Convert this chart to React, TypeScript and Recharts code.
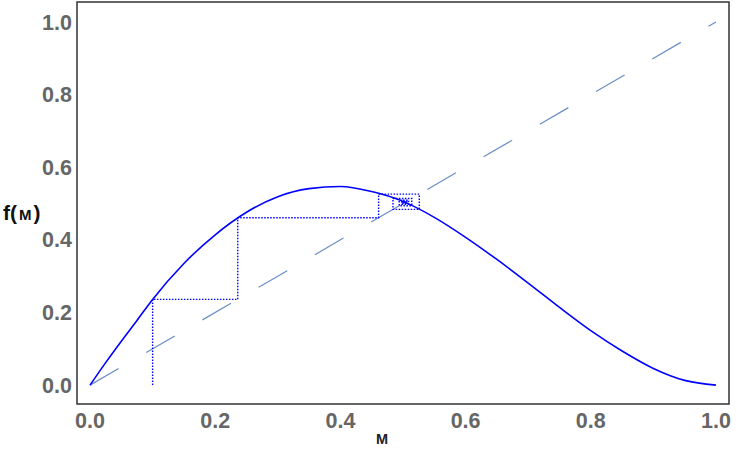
// Cobweb diagram for the map f(M): curve, identity line and the iterated orbit.
import { Label, Line, LineChart, ReferenceArea, XAxis, YAxis } from "recharts";

// curve f(M)
const mValues = [0, 0.025, 0.05, 0.075, 0.1, 0.15, 0.2, 0.25, 0.3, 0.35, 0.4, 0.45, 0.5, 0.55, 0.6, 0.65, 0.7, 0.75, 0.8, 0.85, 0.9, 0.95, 1.0];
const fValues = [0, 0.062, 0.121, 0.178, 0.236, 0.335, 0.414, 0.476, 0.519, 0.541, 0.547, 0.533, 0.506, 0.462, 0.407, 0.346, 0.281, 0.214, 0.15, 0.094, 0.046, 0.013, 0];

// identity line M = f(M)
const identityM = [0, 1];

// orbit starting at M0 = 0.1
const orbit = [0.1, 0.236, 0.461, 0.526, 0.484, 0.514, 0.494, 0.509, 0.498, 0.506, 0.5, 0.505, 0.501, 0.504, 0.502, 0.503];

const axisTicks = [0, 0.2, 0.4, 0.6, 0.8, 1.0];

const curveData = mValues.map((x, i) => ({ x, f: fValues[i] }));
const identityData = identityM.map((x) => ({ x, f: x }));
const cobwebData: { x: number; f: number }[] = [{ x: orbit[0], f: 0 }];
for (let i = 0; i < orbit.length - 1; i++) {
  cobwebData.push({ x: orbit[i], f: orbit[i + 1] });
  cobwebData.push({ x: orbit[i + 1], f: orbit[i + 1] });
}

const X_DOMAIN: [number, number] = [-0.0208, 1.0208];
const Y_DOMAIN: [number, number] = [-0.052, 1.055];
const FONT = "'Liberation Sans', Arial, sans-serif";
const tickStyle = { fill: "#666", fontSize: 21.5, fontWeight: 700, fontFamily: FONT };

export default function App() {
  return (
    <div style={{ position: "absolute", left: 0, top: 0 }}>
      <LineChart width={736} height={449} data={curveData} margin={{ top: 2, right: 7, bottom: 0, left: 0 }}>
        <XAxis dataKey="x" type="number" domain={X_DOMAIN} allowDataOverflow ticks={axisTicks}
               tickFormatter={(v: number) => v.toFixed(1)} tick={tickStyle}
               tickLine={false} axisLine={false} tickSize={0} tickMargin={9} height={45}>
          <Label content={({ viewBox }: any) => (
            <text x={viewBox.x + viewBox.width / 2 - 21} y={viewBox.y + 40} textAnchor="middle"
                  fontFamily={FONT} fontWeight={700} fontSize={14.5} fill="#222">M</text>
          )} />
        </XAxis>
        <YAxis type="number" domain={Y_DOMAIN} allowDataOverflow ticks={axisTicks}
               tickFormatter={(v: number) => v.toFixed(1)} tick={tickStyle}
               tickLine={false} axisLine={false} tickSize={0} tickMargin={5} width={77}>
          <Label content={({ viewBox }: any) => (
            <text x={viewBox.x + 3} y={viewBox.y + 217.5} fontFamily={FONT} fontWeight={700} fill="#111">
              <tspan fontSize={21}>f(</tspan>
              <tspan fontSize={15} dx={2}>M</tspan>
              <tspan fontSize={21} dx={2}>)</tspan>
            </text>
          )} />
        </YAxis>
        <ReferenceArea x1={X_DOMAIN[0]} x2={X_DOMAIN[1]} y1={Y_DOMAIN[0]} y2={Y_DOMAIN[1]}
                       fill="none" stroke="#333" strokeWidth={1.5} ifOverflow="visible" />
        <Line data={identityData} dataKey="f" type="linear" stroke="#6A8DC4" strokeWidth={1.2}
              strokeDasharray="33 32" dot={false} isAnimationActive={false} />
        <Line data={cobwebData} dataKey="f" type="linear" stroke="#0000ff" strokeWidth={1.4}
              strokeDasharray="1.5 1.5" dot={false} isAnimationActive={false} />
        <Line dataKey="f" type="monotone" stroke="#0000ff" strokeWidth={1.6}
              dot={false} isAnimationActive={false} />
      </LineChart>
    </div>
  );
}
